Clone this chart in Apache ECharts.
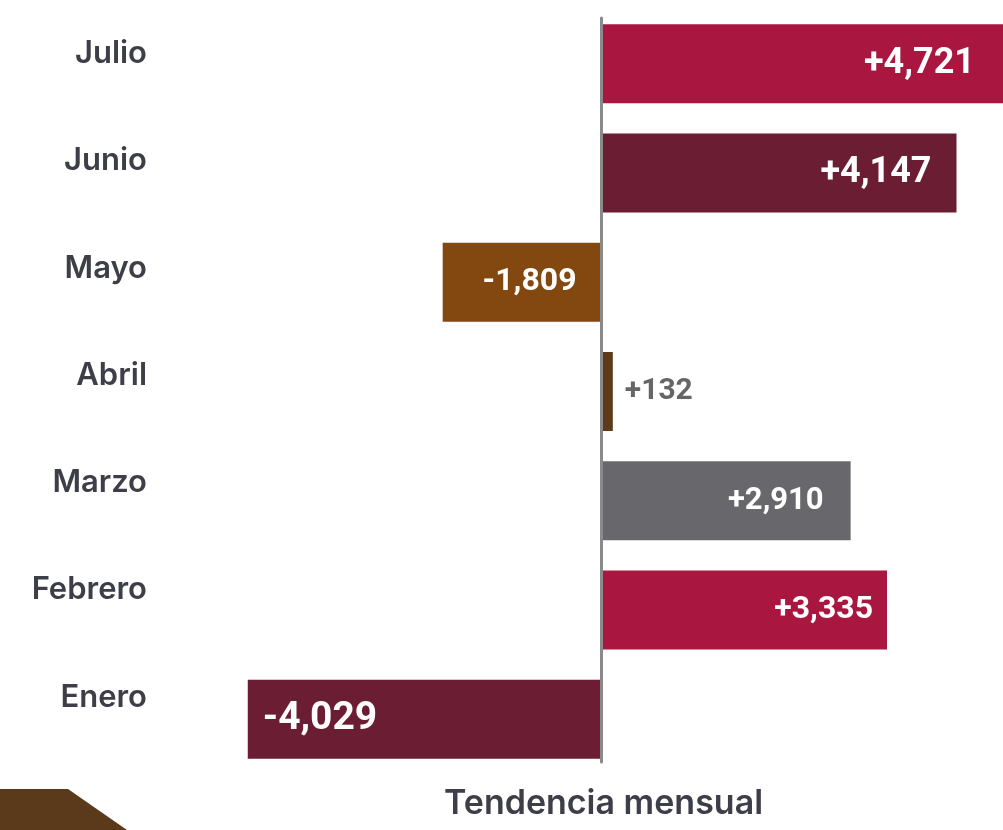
<!DOCTYPE html>
<html>
<head>
<meta charset="utf-8">
<script src="https://cdn.jsdelivr.net/npm/echarts@6/dist/echarts.min.js"></script>
<style>
    html, body { margin: 0; padding: 0; background: #fff; }
    #main { width: 1003px; height: 830px; }
</style>
</head>
<body>
<div id="main"></div>
<script>
// datos (de arriba hacia abajo)
var meses = ['Julio', 'Junio', 'Mayo', 'Abril', 'Marzo', 'Febrero', 'Enero'];
var valores = [4721, 4147, -1809, 132, 2910, 3335, -4029];
var titulo = 'Tendencia mensual';

// estilos por barra
var colores = ['#A91740', '#6B1D33', '#834710', '#5E3A1A', '#68686C', '#A91740', '#6B1D33'];
var etiquetas = [
    { position: 'insideRight', distance: 28, fontSize: 36, color: '#fff' },
    { position: 'insideRight', distance: 25, fontSize: 36, color: '#fff' },
    { position: 'insideRight', distance: 25, fontSize: 32, color: '#fff' },
    { position: 'right', distance: 12, fontSize: 30, color: '#666' },
    { position: 'insideRight', distance: 27, fontSize: 31, color: '#fff' },
    { position: 'insideRight', distance: 14, fontSize: 32, color: '#fff' },
    { position: 'insideLeft', distance: 15, fontSize: 39, color: '#fff' }
];

function fmt(v) {
    return (v > 0 ? '+' : '-') + Math.abs(v).toLocaleString('en-US');
}

function serie(positivo) {
    return valores.map(function (v, i) {
        if ((v > 0) !== positivo) return '-';
        var e = etiquetas[i];
        return {
            value: v,
            itemStyle: { color: colores[i] },
            label: {
                show: true,
                position: e.position,
                distance: e.distance,
                color: e.color,
                fontSize: e.fontSize,
                fontWeight: 'bold',
                fontFamily: 'Roboto',
                formatter: function (p) { return fmt(p.value); }
            }
        };
    });
}

var myChart = echarts.init(document.getElementById('main'));
var option = {
    animation: false,
    title: {
        text: titulo,
        left: 439,
        top: 782,
        textStyle: { fontFamily: 'Inter', fontWeight: 600, fontSize: 34, color: '#3d3e47' }
    },
    graphic: [{
        type: 'polygon',
        shape: { points: [[0, 789], [68, 789], [127, 830], [0, 830]] },
        style: { fill: '#5A3A1A' }
    }],
    grid: [
        { left: 0, right: 0, top: 9, height: 765 },
        { left: 160, right: 0, top: -3, height: 754 },
        { left: 0, right: 0, top: 18, height: 744 }
    ],
    xAxis: [
        { type: 'value', gridIndex: 0, min: -7027, max: 4690, show: false },
        { type: 'value', gridIndex: 0, min: -6851, max: 4573, show: false },
        { type: 'value', gridIndex: 1, min: 0, max: 1, show: false },
        { type: 'value', gridIndex: 2, min: -7027, max: 4690, show: false }
    ],
    yAxis: [
        { type: 'category', gridIndex: 0, data: meses, inverse: true, show: false },
        {
            type: 'category', gridIndex: 1, data: meses, inverse: true,
            axisLine: { show: false }, axisTick: { show: false },
            axisLabel: { margin: 13, fontFamily: 'Inter', fontWeight: 600, fontSize: 31, color: '#3d3e47' }
        },
        {
            type: 'category', gridIndex: 2, data: meses, inverse: true, z: 10,
            axisLine: { show: true, onZero: true, lineStyle: { color: '#8a8a8a', width: 3 } },
            axisTick: { show: false }, axisLabel: { show: false }
        }
    ],
    series: [
        {
            type: 'bar', xAxisIndex: 0, yAxisIndex: 0,
            barWidth: 79, barGap: '-100%',
            data: serie(true)
        },
        {
            type: 'bar', xAxisIndex: 1, yAxisIndex: 0,
            barWidth: 79, barGap: '-100%',
            data: serie(false)
        }
    ]
};
myChart.setOption(option);
</script>
</body>
</html>
